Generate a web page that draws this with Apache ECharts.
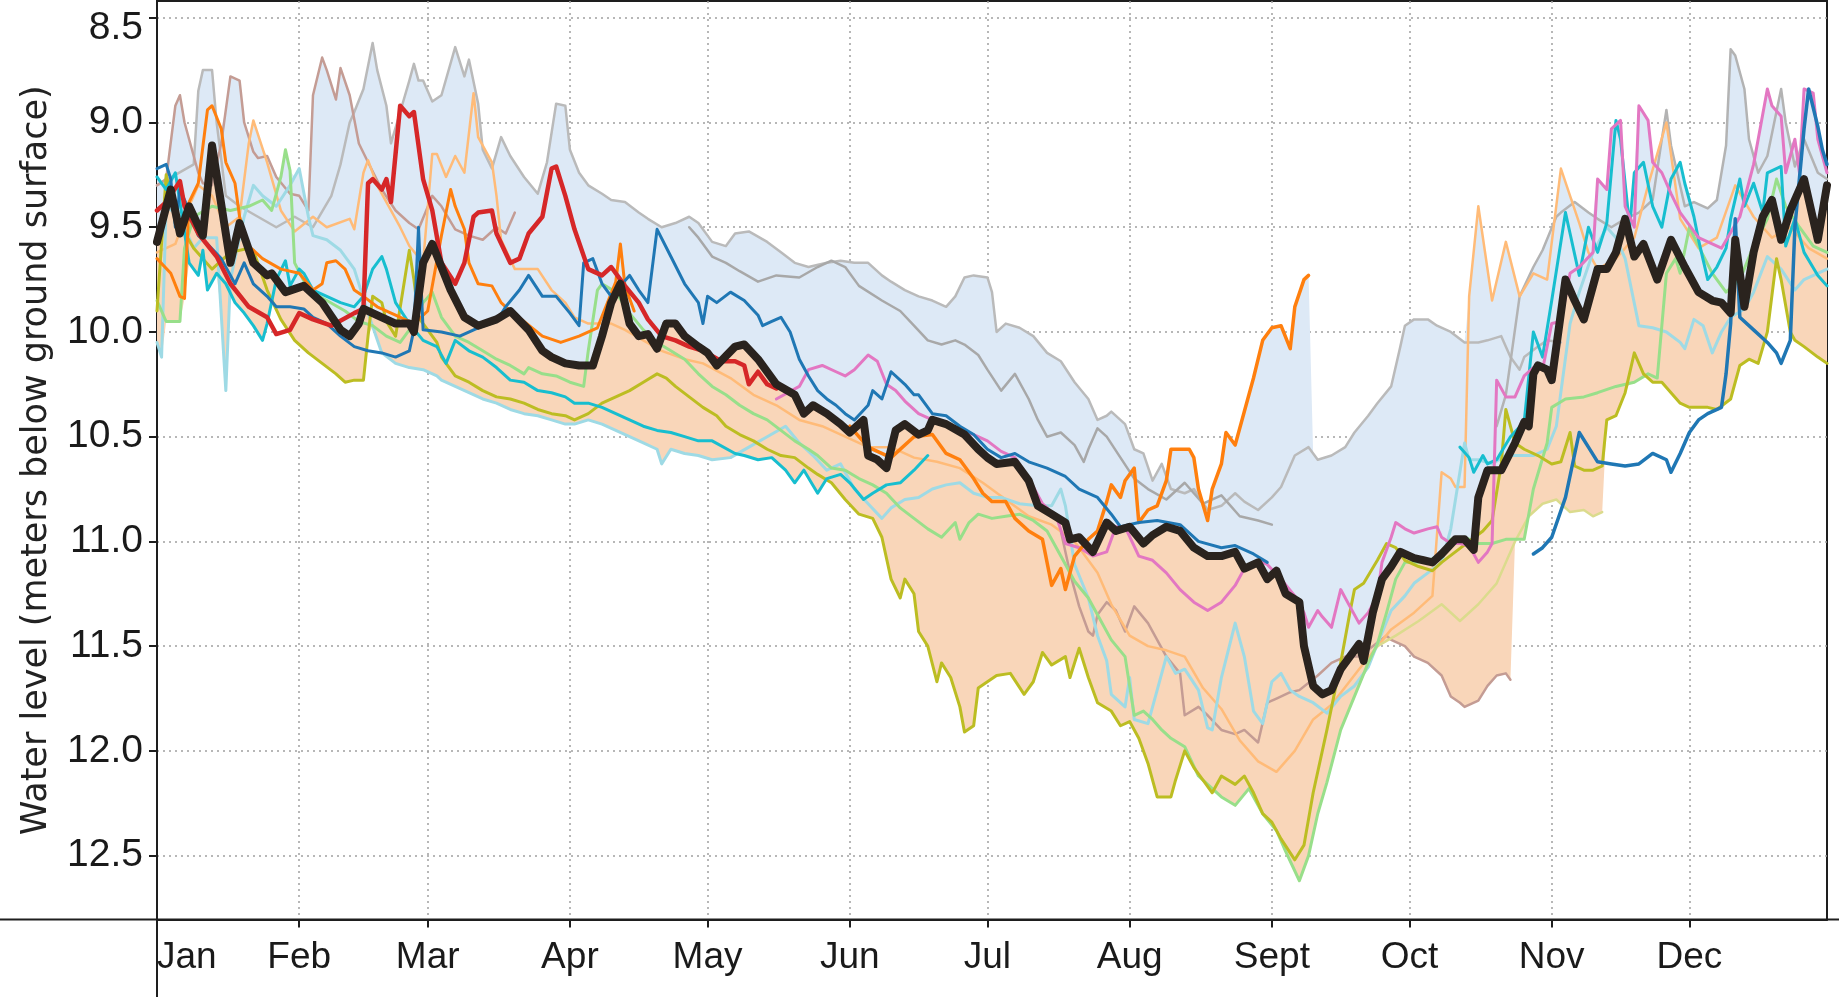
<!DOCTYPE html>
<html>
<head>
<meta charset="utf-8">
<script src="https://cdn.jsdelivr.net/npm/echarts@6/dist/echarts.min.js"></script>
<style>
  html, body { margin: 0; padding: 0; background: #ffffff; }
  #chart { width: 1839px; height: 997px; }
</style>
</head>
<body>
<div id="chart"></div>
<script>
// Daily groundwater depth (m below ground surface), [day of year, level]
const monthStarts = [0, 31, 59, 90, 120, 151, 181, 212, 243, 273, 304, 334];
const monthLabels = ['Jan', 'Feb', 'Mar', 'Apr', 'May', 'Jun', 'Jul', 'Aug', 'Sept', 'Oct', 'Nov', 'Dec'];
const levelTicks = [8.5, 9.0, 9.5, 10.0, 10.5, 11.0, 11.5, 12.0, 12.5];

const median = [[0,9.57],[3,9.32],[5,9.53],[7,9.4],[10,9.54],[12,9.11],[16,9.67],[18,9.48],[21,9.67],[24,9.73],[25,9.72],[28,9.81],[32,9.78],[36,9.86],[40,9.99],[42,10.02],[44,9.96],[45,9.89],[49,9.93],[52,9.96],[55,9.96],[56,10.0],[58,9.67],[60,9.58],[64,9.8],[67,9.93],[70,9.97],[74,9.94],[77,9.9],[81,9.99],[84,10.09],[86,10.12],[89,10.15],[92,10.16],[95,10.16],[97,10.02],[99,9.86],[101,9.77],[103,9.96],[105,10.02],[107,10.01],[109,10.08],[111,9.96],[113,9.96],[115,10.02],[118,10.07],[120,10.1],[122,10.16],[126,10.07],[128,10.06],[131,10.13],[135,10.25],[139,10.3],[141,10.39],[143,10.35],[146,10.39],[149,10.44],[151,10.48],[154,10.42],[155,10.59],[157,10.61],[159,10.65],[161,10.47],[163,10.44],[166,10.49],[168,10.47],[169,10.42],[172,10.44],[176,10.49],[179,10.56],[181,10.6],[183,10.63],[187,10.62],[190,10.71],[192,10.83],[195,10.87],[198,10.91],[199,10.99],[201,10.98],[204,11.05],[207,10.91],[209,10.95],[212,10.93],[215,11.01],[217,10.97],[220,10.93],[223,10.95],[226,11.03],[229,11.07],[232,11.07],[235,11.05],[237,11.13],[240,11.1],[242,11.18],[244,11.14],[246,11.25],[249,11.29],[250,11.5],[252,11.69],[254,11.73],[256,11.71],[258,11.61],[261,11.52],[262,11.49],[263,11.57],[265,11.34],[267,11.18],[269,11.12],[271,11.05],[274,11.08],[276,11.09],[278,11.1],[280,11.06],[283,10.99],[285,10.99],[287,11.04],[288,10.79],[290,10.66],[293,10.66],[296,10.53],[298,10.43],[299,10.45],[300,10.2],[301,10.16],[303,10.18],[304,10.23],[307,9.75],[309,9.85],[311,9.94],[314,9.7],[316,9.7],[318,9.62],[320,9.46],[322,9.64],[324,9.58],[327,9.75],[330,9.56],[333,9.69],[336,9.81],[339,9.85],[341,9.86],[343,9.91],[344,9.56],[346,9.88],[348,9.62],[350,9.45],[352,9.37],[354,9.56],[356,9.42],[359,9.27],[362,9.56],[364,9.3]];

const red = [[0,9.42],[2,9.38],[5,9.28],[6,9.4],[9,9.53],[13,9.64],[16,9.77],[20,9.88],[24,9.93],[26,10.01],[29,9.99],[31,9.91],[34,9.94],[38,9.97],[43,9.91],[45,9.89],[46,9.29],[47,9.27],[49,9.32],[50,9.27],[51,9.38],[53,8.92],[55,8.97],[56,8.95],[58,9.27],[60,9.42],[62,9.67],[65,9.77],[67,9.67],[69,9.45],[70,9.43],[73,9.42],[74,9.53],[77,9.67],[79,9.65],[81,9.53],[84,9.45],[86,9.22],[87,9.21],[89,9.35],[91,9.51],[94,9.7],[97,9.73],[99,9.69],[102,9.78],[105,9.86],[107,9.94],[110,10.02],[113,10.04],[116,10.07],[119,10.09],[123,10.14],[126,10.14],[128,10.16],[129,10.25],[131,10.19],[133,10.25],[135,10.27]];

const blueA = [[0,9.22],[2,9.2],[3,9.27],[4,9.5],[5,9.32],[7,9.42],[9,9.54],[11,9.58],[14,9.65],[17,9.77],[19,9.67],[21,9.77],[24,9.83],[26,9.88],[29,9.88],[32,9.89],[34,9.93],[37,9.96],[40,10.02],[43,10.07],[46,10.09],[49,10.1],[52,10.12],[55,10.09],[56,9.99],[57,9.5],[58,9.99],[62,10.0],[66,10.02],[70,9.98],[74,9.95],[76,9.88],[79,9.8],[81,9.73],[84,9.83],[87,9.83],[90,9.91],[92,9.97],[93,9.67],[95,9.65],[97,9.77],[99,9.83],[103,9.73],[105,9.8],[107,9.86],[109,9.51],[112,9.64],[115,9.77],[118,9.86],[119,9.96],[120,9.83],[122,9.86],[125,9.81],[128,9.85],[131,9.92],[132,9.97],[134,9.95],[136,9.93],[138,10.0],[140,10.13],[142,10.21],[144,10.28],[146,10.32],[148,10.35],[150,10.39],[152,10.42],[155,10.35],[156,10.28],[158,10.32],[160,10.19],[163,10.25],[165,10.3],[166,10.3],[169,10.39],[172,10.4],[175,10.45],[178,10.49],[181,10.56],[184,10.6],[187,10.58],[190,10.62],[194,10.65],[198,10.69],[201,10.75],[205,10.79],[208,10.87],[210,10.93],[214,10.91],[218,10.9],[223,10.92],[227,11.0],[232,11.03],[235,11.02],[239,11.06],[242,11.1]];
const blueB = [[300,11.06],[302,11.03],[304,10.98],[307,10.79],[310,10.48],[312,10.55],[314,10.62],[317,10.63],[320,10.64],[323,10.63],[326,10.58],[329,10.61],[330,10.67],[332,10.58],[334,10.48],[336,10.42],[338,10.39],[341,10.36],[342,10.2],[343,9.96],[344,9.46],[345,9.93],[348,9.99],[351,10.05],[353,10.1],[354,10.15],[356,10.04],[357,9.5],[359,9.03],[360,8.84],[362,9.02],[363,9.13],[364,9.2]];

const orangeA = [[0,9.65],[3,9.72],[5,9.83],[6,9.84],[7,9.38],[9,9.29],[11,8.94],[12,8.92],[14,9.03],[15,9.19],[17,9.29],[18,9.45],[20,9.59],[23,9.65],[27,9.7],[31,9.72],[34,9.8],[36,9.77],[37,9.67],[39,9.66],[41,9.7],[43,9.8],[45,9.83],[48,9.88],[52,9.92],[56,9.96],[59,9.9],[62,9.54],[64,9.32],[65,9.4],[67,9.51],[68,9.67],[70,9.77],[73,9.78],[75,9.86],[76,9.88],[80,9.95],[84,10.02],[88,10.05],[92,10.02],[96,9.98],[100,9.76],[101,9.58],[102,9.78],[104,9.9]];
const orangeB = [[151,10.45],[155,10.55],[160,10.6],[165,10.5],[169,10.49],[172,10.58],[175,10.61],[178,10.7],[180,10.77],[182,10.81],[185,10.81],[187,10.89],[190,10.95],[193,10.99],[195,11.21],[197,11.13],[198,11.23],[200,11.07],[203,10.99],[205,10.95],[207,10.81],[208,10.73],[210,10.79],[211,10.71],[213,10.65],[214,10.91],[216,10.85],[218,10.83],[220,10.71],[221,10.56],[223,10.56],[225,10.56],[226,10.6],[227,10.75],[229,10.9],[230,10.75],[232,10.63],[233,10.48],[235,10.54],[237,10.38],[239,10.22],[241,10.04],[243,9.98],[245,9.97],[247,10.08],[248,9.88],[250,9.75],[251,9.73]];

const peach = [[0,9.62],[4,9.58],[7,9.4],[9,9.3],[12,9.35],[15,9.5],[18,9.45],[20,9.1],[21,8.99],[24,9.19],[27,9.42],[30,9.52],[34,9.45],[37,9.5],[42,9.46],[43,9.51],[45,9.24],[46,9.18],[48,9.3],[50,9.38],[53,9.5],[55,9.59],[58,9.67],[60,9.15],[61,9.15],[63,9.26],[65,9.16],[67,9.24],[69,8.86],[70,9.07],[73,9.19],[74,9.35],[75,9.56],[78,9.7],[83,9.7],[86,9.8],[89,9.86],[91,9.93],[94,9.96],[99,9.96],[102,9.99],[106,10.04],[110,10.09],[115,10.13],[119,10.15],[125,10.22],[130,10.3],[135,10.35],[140,10.42],[145,10.45],[150,10.5],[155,10.55],[160,10.55],[165,10.6],[170,10.62],[175,10.65],[180,10.72],[185,10.8],[190,10.88],[195,10.92],[200,11.0],[205,11.15],[208,11.3],[212,11.45],[216,11.5],[220,11.52],[224,11.55],[228,11.7],[232,11.8],[236,11.95],[240,12.05],[244,12.1],[248,12.0],[252,11.85],[256,11.78],[262,11.61],[269,11.42],[274,11.34],[278,11.26],[280,10.67],[282,10.7],[283,10.74],[285,10.74],[286,9.83],[288,9.4],[291,9.85],[294,9.57],[297,9.83],[300,9.72],[303,9.75],[306,9.22],[308,9.35],[310,9.48],[312,9.62],[314,9.7],[318,9.65],[322,9.55],[325,9.3],[329,9.0],[332,9.46],[336,9.6],[340,9.55],[344,9.3],[348,9.45],[352,9.55],[356,9.5],[360,9.6],[364,9.65]];

const cyanA = [[0,9.26],[2,9.32],[4,9.24],[5,9.38],[7,9.67],[9,9.73],[10,9.61],[11,9.8],[13,9.72],[15,9.77],[17,9.86],[19,9.91],[21,9.97],[23,10.04],[24,9.96],[26,9.75],[28,9.66],[29,9.78],[31,9.7],[32,9.72],[34,9.8],[37,9.83],[40,9.86],[43,9.88],[45,9.83],[47,9.7],[49,9.64],[50,9.7],[52,9.86],[55,9.96],[58,10.04],[61,10.07],[63,10.15],[65,10.04],[68,10.09],[71,10.12],[74,10.17],[77,10.23],[80,10.24],[83,10.28],[86,10.29],[89,10.31],[91,10.34],[94,10.34],[97,10.36],[100,10.39],[103,10.42],[106,10.45],[109,10.47],[112,10.48],[115,10.5],[118,10.52],[121,10.52],[126,10.58],[128,10.59],[131,10.61],[134,10.6],[137,10.66],[139,10.72],[141,10.66],[144,10.77],[146,10.7],[149,10.68],[151,10.72],[154,10.8],[156,10.77],[159,10.73],[162,10.72],[165,10.66],[168,10.59]];
const cyanB = [[284,10.55],[286,10.6],[287,10.67],[289,10.59],[290,10.63],[292,10.61],[295,10.5],[298,10.43],[300,10.0],[302,10.12],[304,9.85],[307,9.43],[308,9.53],[310,9.73],[312,9.5],[314,9.62],[316,9.48],[318,8.99],[319,9.08],[321,9.5],[322,9.24],[324,9.19],[326,9.4],[328,9.5],[330,9.27],[332,9.19],[333,9.29],[335,9.45],[336,9.56],[338,9.75],[340,9.69],[342,9.6],[343,9.46],[345,9.27],[346,9.4],[348,9.29],[350,9.43],[351,9.24],[354,9.21],[355,9.59],[357,9.46],[359,9.62],[362,9.73],[364,9.78]];

const pink = [[135,10.32],[140,10.26],[142,10.18],[145,10.16],[148,10.19],[150,10.21],[152,10.18],[155,10.11],[157,10.14],[159,10.25],[161,10.28],[163,10.33],[166,10.39],[169,10.42],[172,10.45],[175,10.47],[178,10.49],[181,10.52],[184,10.57],[187,10.6],[190,10.7],[193,10.82],[196,10.88],[198,11.01],[201,11.03],[204,11.07],[207,11.05],[209,10.93],[211,10.93],[214,11.07],[217,11.09],[220,11.15],[223,11.23],[226,11.29],[229,11.33],[232,11.29],[235,11.21],[237,11.13],[240,11.09],[242,11.11],[245,11.18],[248,11.26],[250,11.34],[251,11.41],[253,11.33],[254,11.36],[256,11.41],[258,11.23],[260,11.31],[262,11.39],[264,11.34],[266,11.26],[267,11.1],[269,10.98],[270,10.91],[272,10.94],[274,10.96],[277,10.94],[279,10.93],[280,10.98],[282,11.01],[284,11.01],[286,11.02],[288,11.1],[290,11.05],[291,11.01],[292,10.23],[294,10.31],[296,10.31],[298,10.21],[300,10.17],[302,10.18],[304,9.96],[306,9.95],[308,9.72],[310,9.69],[313,9.62],[314,9.27],[316,9.32],[317,9.03],[319,8.99],[320,9.4],[322,9.5],[323,8.92],[325,8.99],[326,9.19],[328,9.24],[330,9.34],[332,9.43],[336,9.55],[341,9.6],[345,9.45],[348,9.2],[351,8.84],[352,8.92],[354,8.97],[355,9.24],[357,9.08],[358,9.24],[359,8.84],[361,8.86],[362,9.08],[364,9.24]];

const olive = [[0,9.9],[2,9.25],[4,9.45],[8,9.6],[12,9.7],[16,9.62],[20,9.6],[21,9.61],[24,9.8],[27,9.94],[30,10.04],[33,10.1],[36,10.15],[39,10.2],[41,10.24],[43,10.23],[45,10.23],[46,10.02],[47,9.83],[49,9.86],[50,9.95],[52,10.02],[55,9.61],[56,9.75],[57,9.93],[59,9.99],[61,10.05],[62,10.12],[65,10.21],[68,10.24],[71,10.28],[74,10.31],[77,10.32],[80,10.34],[83,10.37],[86,10.39],[89,10.4],[91,10.42],[94,10.39],[97,10.34],[100,10.31],[103,10.28],[106,10.24],[109,10.2],[111,10.22],[113,10.26],[116,10.31],[119,10.36],[122,10.4],[124,10.45],[127,10.49],[130,10.52],[133,10.56],[136,10.59],[139,10.6],[142,10.65],[144,10.68],[147,10.72],[150,10.8],[153,10.87],[156,10.89],[158,10.98],[160,11.18],[162,11.27],[163,11.18],[165,11.25],[166,11.43],[168,11.5],[170,11.67],[171,11.58],[173,11.65],[175,11.79],[176,11.91],[178,11.88],[179,11.7],[181,11.67],[183,11.64],[186,11.63],[189,11.73],[191,11.67],[193,11.53],[195,11.59],[198,11.55],[199,11.65],[201,11.51],[203,11.65],[205,11.77],[208,11.81],[210,11.88],[212,11.86],[214,11.94],[216,12.06],[218,12.22],[221,12.22],[222,12.14],[224,12.0],[226,12.08],[228,12.14],[230,12.2],[232,12.12],[235,12.16],[237,12.12],[239,12.2],[241,12.3],[243,12.34],[245,12.42],[248,12.52],[250,12.45],[252,12.2],[255,11.9],[258,11.58],[260,11.34],[261,11.23],[263,11.2],[266,11.09],[268,11.01],[270,11.03],[272,11.09],[275,11.12],[278,11.14],[280,11.1],[283,11.05],[286,11.0],[289,10.95],[291,10.9],[293,10.63],[294,10.37],[296,10.53],[298,10.56],[301,10.59],[304,10.63],[306,10.62],[308,10.48],[309,10.64],[311,10.66],[313,10.66],[315,10.64],[316,10.42],[318,10.4],[320,10.29],[322,10.1],[324,10.2],[326,10.24],[328,10.24],[330,10.29],[332,10.34],[334,10.36],[336,10.36],[338,10.36],[340,10.37],[343,10.32],[345,10.16],[347,10.13],[349,10.15],[351,10.0],[353,9.65],[354,9.75],[356,10.0],[357,10.04],[359,10.07],[362,10.12],[364,10.15]];

const paleOlive = [[266,11.5],[270,11.45],[275,11.38],[280,11.3],[284,11.38],[288,11.3],[292,11.2],[296,11.0],[299,10.88],[302,10.82],[305,10.8],[308,10.86],[311,10.85],[313,10.88],[315,10.86]];

const green = [[0,9.85],[2,9.95],[5,9.95],[6,9.6],[8,9.45],[12,9.4],[16,9.42],[20,9.4],[23,9.37],[25,9.42],[27,9.26],[28,9.13],[29,9.23],[30,9.67],[33,9.8],[37,9.85],[41,9.9],[44,9.95],[47,9.97],[50,10.02],[53,10.05],[55,9.99],[58,9.86],[60,9.81],[62,9.93],[65,10.02],[68,10.05],[71,10.09],[74,10.13],[77,10.16],[80,10.2],[81,10.17],[84,10.2],[87,10.21],[90,10.24],[93,10.26],[94,10.09],[96,9.8],[97,9.77],[100,9.81],[103,9.91],[106,9.99],[109,10.05],[112,10.09],[115,10.13],[118,10.2],[121,10.26],[124,10.3],[127,10.35],[130,10.39],[133,10.42],[136,10.47],[139,10.52],[142,10.56],[144,10.59],[147,10.65],[150,10.66],[153,10.7],[156,10.73],[159,10.77],[162,10.84],[165,10.89],[168,10.94],[171,10.98],[174,10.91],[175,10.99],[177,10.91],[179,10.87],[182,10.89],[185,10.88],[188,10.87],[191,10.9],[194,10.95],[197,11.07],[200,11.19],[203,11.27],[205,11.35],[208,11.47],[211,11.55],[213,11.83],[215,11.81],[217,11.85],[219,11.9],[221,11.94],[224,11.98],[227,12.12],[229,12.16],[232,12.22],[235,12.26],[238,12.18],[241,12.3],[244,12.38],[246,12.48],[249,12.62],[251,12.5],[253,12.3],[255,12.15],[258,11.9],[261,11.74],[264,11.58],[266,11.49],[268,11.34],[270,11.18],[272,11.1],[275,11.1],[277,11.09],[280,11.07],[282,10.99],[285,10.98],[288,11.01],[291,11.01],[294,10.99],[298,10.99],[300,10.75],[303,10.53],[304,10.36],[307,10.32],[311,10.31],[314,10.29],[318,10.26],[322,10.24],[325,10.2],[327,10.22],[329,9.72],[331,9.65],[332,9.72],[334,9.5],[336,9.59],[339,9.72],[342,9.81],[345,9.75],[348,9.59],[351,9.46],[353,9.27],[355,9.4],[358,9.5],[361,9.59],[364,9.62]];

const paleCyan = [[0,10.05],[1,10.12],[2,9.4],[5,9.45],[8,9.6],[10,9.55],[13,9.55],[15,10.28],[16,9.75],[19,9.45],[21,9.3],[23,9.35],[26,9.4],[29,9.3],[31,9.22],[33,9.45],[34,9.54],[37,9.56],[40,9.61],[43,9.7],[46,9.91],[49,10.1],[52,10.15],[55,10.17],[58,10.18],[61,10.21],[62,10.23],[65,10.26],[68,10.29],[71,10.32],[74,10.34],[77,10.37],[80,10.39],[83,10.4],[86,10.42],[89,10.44],[91,10.44],[94,10.42],[97,10.44],[100,10.47],[103,10.5],[106,10.53],[109,10.56],[110,10.63],[112,10.56],[115,10.58],[118,10.59],[121,10.61],[125,10.6],[129,10.55],[133,10.5],[137,10.45],[140,10.53],[143,10.59],[146,10.66],[149,10.63],[152,10.75],[155,10.82],[158,10.89],[160,10.84],[163,10.8],[166,10.79],[169,10.75],[172,10.73],[175,10.72],[178,10.77],[181,10.79],[184,10.79],[188,10.82],[192,10.83],[195,10.83],[197,10.75],[198,10.83],[200,11.11],[203,11.27],[205,11.45],[207,11.57],[208,11.73],[211,11.79],[212,11.65],[213,11.85],[216,11.87],[218,11.71],[220,11.55],[222,11.63],[224,11.61],[227,11.71],[229,11.89],[230,11.9],[232,11.65],[235,11.39],[237,11.55],[239,11.81],[241,11.87],[243,11.67],[245,11.63],[247,11.71],[249,11.74],[252,11.77],[255,11.82],[258,11.74],[261,11.69],[264,11.6],[266,11.49],[269,11.33],[272,11.26],[274,11.2],[277,11.15],[280,11.1],[282,10.94],[285,10.53],[286,10.61],[288,10.61],[291,10.63],[294,10.59],[297,10.59],[300,10.59],[303,10.56],[305,10.45],[308,9.96],[310,9.81],[313,9.62],[316,9.5],[318,9.55],[320,9.65],[323,9.97],[326,9.98],[329,10.0],[332,10.05],[333,10.08],[335,9.94],[337,9.97],[339,10.1],[341,10.0],[343,9.93],[346,9.89],[348,9.81],[351,9.64],[354,9.7],[357,9.8],[359,9.75],[362,9.72],[364,9.7]];

const rosyA = [[0,9.3],[2,9.27],[4,8.92],[5,8.87],[6,9.0],[8,9.16],[9,9.24],[10,9.29],[12,9.3],[14,9.1],[16,8.78],[18,8.8],[19,9.0],[21,9.14],[22,9.17],[24,9.16],[26,9.26],[29,9.34],[31,9.35],[33,9.42],[34,8.87],[36,8.69],[37,8.75],[39,8.89],[40,8.74],[42,8.87],[44,9.1],[46,9.19],[49,9.32],[52,9.42],[55,9.48],[57,9.51],[60,9.35],[62,9.4],[65,9.51],[68,9.54],[71,9.56],[74,9.5],[76,9.53],[78,9.43]];
const rosyB = [[197,10.95],[199,11.15],[201,11.31],[203,11.43],[204,11.45],[205,11.35],[207,11.29],[209,11.33],[211,11.43],[213,11.31],[216,11.39],[218,11.47],[220,11.55],[223,11.63],[224,11.83],[227,11.79],[229,11.83],[232,11.9],[235,11.92],[237,11.9],[240,11.96],[242,11.77],[244,11.75],[247,11.72],[249,11.71],[253,11.64],[256,11.58],[259,11.55],[262,11.55],[265,11.5],[268,11.45],[269,11.47],[272,11.5],[274,11.55],[277,11.58],[280,11.64],[282,11.74],[284,11.77],[285,11.79],[288,11.76],[290,11.69],[292,11.64],[294,11.63],[295,11.66]];

const silver = [[0,9.3],[4,9.25],[8,9.2],[9,8.85],[10,8.75],[12,8.75],[13,9.0],[15,9.35],[18,9.4],[22,9.45],[26,9.5],[30,9.45],[34,9.5],[38,9.35],[40,9.2],[42,9.0],[43,8.95],[45,8.84],[47,8.62],[48,8.75],[50,8.92],[51,9.1],[53,8.95],[55,8.8],[56,8.72],[57,8.8],[58,8.8],[60,8.9],[62,8.87],[65,8.64],[67,8.78],[68,8.7],[70,8.91],[71,9.13],[73,9.22],[75,9.07],[77,9.16],[80,9.26],[83,9.34],[85,9.19],[87,8.91],[89,8.92],[90,9.13],[92,9.24],[94,9.3],[97,9.34],[99,9.37],[102,9.38],[105,9.43],[107,9.46],[110,9.5],[113,9.48],[116,9.45],[118,9.48],[121,9.57],[124,9.59],[126,9.53],[129,9.52],[133,9.57],[136,9.62],[139,9.67],[142,9.69],[146,9.67],[149,9.66],[152,9.67],[155,9.67],[158,9.73],[160,9.76],[163,9.8],[166,9.83],[169,9.85],[172,9.88],[174,9.83],[176,9.74],[178,9.73],[181,9.74],[182,9.81],[183,10.0],[185,9.96],[188,9.98],[191,10.02],[194,10.1],[197,10.14],[200,10.24],[203,10.32],[205,10.42],[207,10.4],[208,10.38],[211,10.44],[213,10.56],[215,10.58],[217,10.71],[219,10.63],[221,10.75],[224,10.77],[226,10.75],[229,10.85],[232,10.83],[235,10.77],[237,10.81],[240,10.85],[243,10.79],[245,10.74],[248,10.59],[251,10.55],[253,10.61],[256,10.59],[259,10.55],[261,10.48],[264,10.4],[266,10.34],[269,10.26],[271,10.07],[272,9.97],[274,9.94],[277,9.94],[279,9.97],[282,10.0],[285,10.05],[288,10.05],[290,10.04],[293,10.02],[295,10.12],[297,10.18],[298,10.12],[301,10.07],[303,10.04],[306,10.05]];
const grayA = [[116,9.5],[118,9.55],[121,9.64],[124,9.67],[127,9.71],[131,9.76],[135,9.73],[140,9.74],[144,9.69],[147,9.66],[150,9.69],[153,9.78],[158,9.85],[162,9.9],[165,9.97],[168,10.04],[171,10.06],[174,10.04],[176,10.06],[179,10.11],[181,10.18],[184,10.28],[187,10.2],[190,10.32],[192,10.42],[194,10.5],[197,10.48],[200,10.54],[202,10.62],[203,10.56],[205,10.46],[207,10.5],[210,10.6],[213,10.7],[216,10.75],[220,10.8],[224,10.72],[228,10.82],[232,10.78],[236,10.88],[240,10.9],[243,10.92]];
const grayB = [[292,10.45],[294,10.3],[297,9.83],[300,9.69],[302,9.61],[305,9.45],[306,9.43],[309,9.38],[312,9.43],[314,9.46],[317,9.5],[320,9.46],[323,9.43],[326,9.37],[328,9.08],[329,8.94],[330,9.11],[333,9.4],[335,9.38],[338,9.41],[340,9.37],[342,9.11],[343,8.65],[344,8.68],[346,8.84],[347,9.08],[349,9.24],[351,9.16],[354,8.84],[355,9.0],[357,9.21],[359,9.08],[362,9.24],[364,9.27]];

// Traces that define the shaded range around the median
const rangeTraces = [silver, grayA, grayB, rosyA, rosyB, orangeA, orangeB, peach, cyanA, cyanB,
                     paleCyan, pink, olive, paleOlive, green, median];

function levelsOnDay(trace, d) {
  const out = [];
  for (let i = 0; i < trace.length; i++) {
    const [x, y] = trace[i];
    if (x === d) out.push(y);
    if (i + 1 < trace.length) {
      const [x2, y2] = trace[i + 1];
      if (x < d && d < x2) out.push(y + (y2 - y) * (d - x) / (x2 - x));
    }
  }
  return out;
}

const days = [];
for (let d = 0; d < 365; d++) days.push(d);

const upper = [], lower = [];
days.forEach(d => {
  let lo = Infinity, hi = -Infinity;
  rangeTraces.forEach(t => levelsOnDay(t, d).forEach(v => { lo = Math.min(lo, v); hi = Math.max(hi, v); }));
  upper.push([d, lo]);
  lower.push([d, hi]);
});

const upperBand = upper.concat(median.slice().reverse());
const lowerBand = median.concat(lower.slice().reverse());

function bandSeries(points, color) {
  return {
    type: 'custom',
    coordinateSystem: 'cartesian2d',
    silent: true,
    clip: true,
    z: 1,
    data: [[0, 10]],
    renderItem: (params, api) => ({
      type: 'polygon',
      shape: { points: points.map(p => api.coord(p)) },
      style: { fill: color }
    })
  };
}

function trace(data, color, width, z) {
  return {
    type: 'line', data, symbol: 'none', showSymbol: false, silent: true, clip: true,
    z: z || 3,
    lineStyle: { color, width, join: 'round', cap: 'round' }
  };
}

const monthSet = new Set(monthStarts);
const isMonth = (i) => monthSet.has(i);
const axisColor = '#1e1e1e';

const chart = echarts.init(document.getElementById('chart'), null, { renderer: 'canvas' });
chart.setOption({
  animation: false,
  backgroundColor: '#ffffff',
  grid: {
    left: 157, right: 12, top: 1, bottom: 77.5,
    show: true, borderColor: axisColor, borderWidth: 2,
    outerBoundsMode: 'none'
  },
  xAxis: {
    type: 'category',
    data: days,
    boundaryGap: false,
    axisLine: { lineStyle: { color: axisColor, width: 2 } },
    axisTick: { interval: isMonth, length: 8, lineStyle: { color: axisColor, width: 2 } },
    axisLabel: {
      interval: isMonth,
      formatter: (v) => monthLabels[monthStarts.indexOf(+v)],
      fontFamily: 'Liberation Sans', fontSize: 37, color: '#1a1a1a', margin: 20,
      alignMinLabel: 'left'
    },
    splitLine: { show: true, interval: isMonth, lineStyle: { color: '#a0a0a0', width: 1.5, type: [2, 4] } }
  },
  yAxis: {
    type: 'value',
    inverse: true,
    min: 8.42, max: 12.805,
    splitNumber: 9,
    name: 'Water level (meters below ground surface)',
    nameLocation: 'middle',
    nameGap: 103,
    nameTextStyle: { fontFamily: 'DejaVu Sans', fontSize: 35, color: '#222' },
    axisLine: { show: true, lineStyle: { color: axisColor, width: 2 } },
    axisTick: { show: true, customValues: levelTicks, length: 8, lineStyle: { color: axisColor, width: 2 } },
    axisLabel: {
      customValues: levelTicks,
      formatter: (v) => v === 8.5 ? '{top|' + v.toFixed(1) + '}' : v.toFixed(1),
      fontFamily: 'Liberation Sans', fontSize: 39, color: '#1a1a1a', margin: 14,
      rich: { top: { fontFamily: 'Liberation Sans', fontSize: 39, color: '#1a1a1a', padding: [20, 0, 0, 0] } }
    },
    splitLine: { show: true, lineStyle: { color: '#a0a0a0', width: 1.5, type: [2, 4] } }
  },
  graphic: [
    { type: 'line', silent: true, shape: { x1: 0, y1: 919.5, x2: 157, y2: 919.5 }, style: { stroke: axisColor, lineWidth: 2 } },
    { type: 'line', silent: true, shape: { x1: 1827, y1: 919.5, x2: 1839, y2: 919.5 }, style: { stroke: axisColor, lineWidth: 2 } },
    { type: 'line', silent: true, shape: { x1: 157, y1: 919.5, x2: 157, y2: 997 }, style: { stroke: axisColor, lineWidth: 2 } }
  ],
  series: [
    bandSeries(upperBand, '#dde9f6'),
    bandSeries(lowerBand, '#f9d6b9'),
    trace(silver, '#bababa', 2.5),
    trace(grayA, '#a8a8a8', 2.5),
    trace(grayB, '#b3b3b3', 2.5),
    trace(rosyA, '#c49c94', 2.5),
    trace(rosyB, '#c49c94', 2.5),
    trace(peach, '#ffbb78', 2.5),
    trace(paleOlive, '#dbdb8d', 2.5),
    trace(paleCyan, '#9edae5', 3),
    trace(green, '#98df8a', 3),
    trace(olive, '#bcbd22', 3),
    trace(cyanA, '#17becf', 3),
    trace(cyanB, '#17becf', 3),
    trace(pink, '#e377c2', 3),
    trace(orangeA, '#ff7f0e', 3),
    trace(orangeB, '#ff7f0e', 3.5),
    trace(blueA, '#1f77b4', 3),
    trace(blueB, '#1f77b4', 3.5),
    trace(red, '#d62728', 4.5, 4),
    trace(median, '#2a231e', 8, 5)
  ]
});
</script>
</body>
</html>
